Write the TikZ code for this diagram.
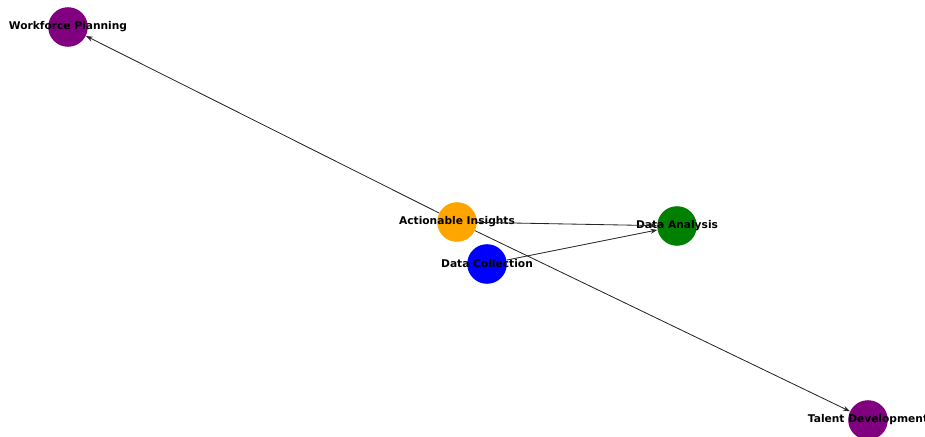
\documentclass[tikz,border=0pt]{standalone}
\usepackage{fontspec}
\setmainfont{DejaVu Sans}
\usetikzlibrary{arrows.meta}
\definecolor{nodepurple}{RGB}{128,0,128}
\definecolor{nodeorange}{RGB}{255,165,0}
\definecolor{nodegreen}{RGB}{0,128,0}
\definecolor{nodeblue}{RGB}{0,0,255}
\tikzstyle{stage} = [circle, minimum size=28.6pt, inner sep=0pt, draw=none]
\tikzstyle{arrow} = [line width=0.6pt, draw=black!85, -{Stealth[length=5pt,width=3.6pt]}]
\tikzset{
    stagelabel/.style={
        label={[font=\fontsize{7.7}{9}\selectfont\bfseries, text=black]center:#1}
    }
}

\begin{document}
\begin{tikzpicture}[x=0.254mm, y=-0.254mm]
        \useasboundingbox (0,0) rectangle (925,437);
        % Nodes
        \node (workforce) [stage, fill=nodepurple, stagelabel={Workforce Planning}] at (68,27) {};
        \node (insights) [stage, fill=nodeorange, stagelabel={Actionable Insights}] at (457,222) {};
        \node (analysis) [stage, fill=nodegreen, stagelabel={Data Analysis}] at (677,226) {};
        \node (collection) [stage, fill=nodeblue, stagelabel={Data Collection}] at (487,264) {};
        \node (talent) [stage, fill=nodepurple, stagelabel={Talent Development}] at (868,420) {};

        % Arrows
        \draw [arrow] (collection) -- (analysis);
        \draw [arrow] (insights) -- (analysis);
        \draw [arrow] (insights) -- (workforce);
        \draw [arrow] (insights) -- (talent);
\end{tikzpicture}
\end{document}
